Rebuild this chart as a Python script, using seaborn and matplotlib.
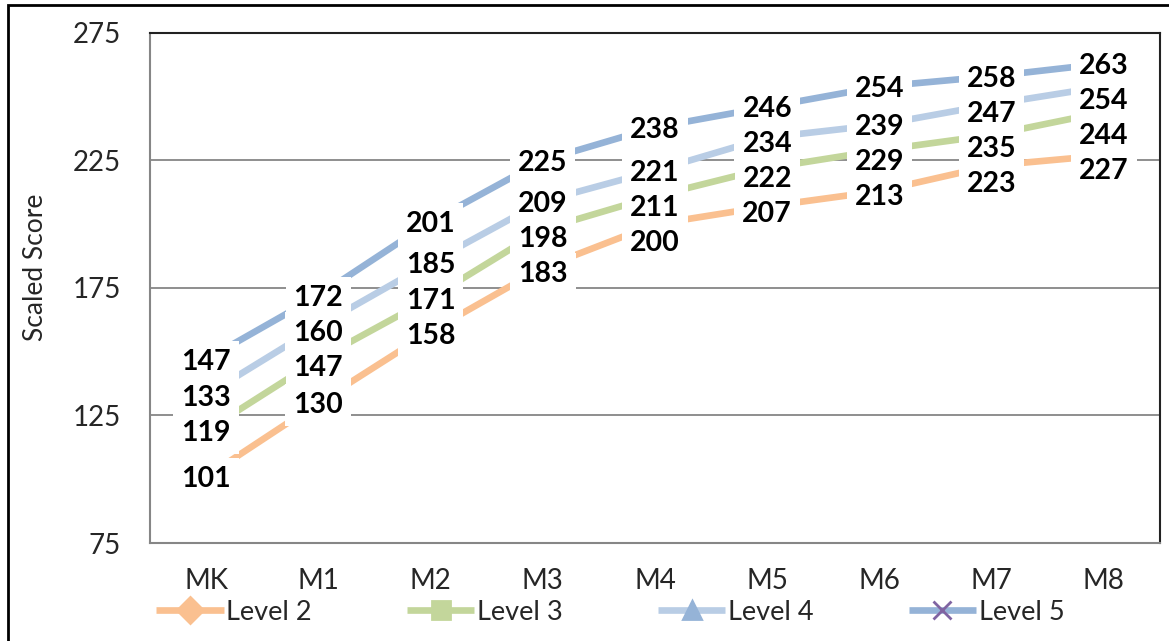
import pandas as pd
import numpy as np
import matplotlib.pyplot as plt
import seaborn as sns
from matplotlib.patches import Rectangle

# chart values
grades = ['MK', 'M1', 'M2', 'M3', 'M4', 'M5', 'M6', 'M7', 'M8']
level2 = [101, 130, 158, 183, 200, 207, 213, 223, 227]
level3 = [119, 147, 171, 198, 211, 222, 229, 235, 244]
level4 = [133, 160, 185, 209, 221, 234, 239, 247, 254]
level5 = [147, 172, 201, 225, 238, 246, 254, 258, 263]
level_names = ['Level 2', 'Level 3', 'Level 4', 'Level 5']
y_ticks = [75, 125, 175, 225, 275]

df = pd.DataFrame({
    'grade': grades * 4,
    'score': level2 + level3 + level4 + level5,
    'level': [n for n in level_names for _ in grades],
})

sns.set_theme(style='white')
plt.rcParams['font.family'] = ['Lato', 'DejaVu Sans']

line_colors = {'Level 2': '#FAC090', 'Level 3': '#C3D69B', 'Level 4': '#B9CDE5', 'Level 5': '#95B3D7'}
marker_colors = ['#FAC090', '#C3D69B', '#95B3D7', '#8064A2']
markers = {'Level 2': 'D', 'Level 3': 's', 'Level 4': '^', 'Level 5': 'X'}

fig = plt.figure(figsize=(11.69, 6.41), dpi=100)
ax = fig.add_axes([150 / 1169, 1 - 543 / 641, 1010 / 1169, 510 / 641])

sns.lineplot(data=df, x='grade', y='score', hue='level', style='level',
             palette=line_colors, markers=markers, dashes=False, linewidth=4.8,
             markersize=13, legend=False, sort=False, ax=ax)

for line, mc in zip(ax.lines, marker_colors):
    line.set_solid_capstyle('butt')
    line.set_markerfacecolor(mc)
    line.set_markeredgecolor(mc)
    line.set_markeredgewidth(2)
ax.lines[3].set_marker('x')

ax.set_xlim(-0.5, 8.5)
ax.set_ylim(75, 275)

# data labels with white boxes; nudge down so stacked labels don't overlap
min_gap = 35  # px
series = [level5, level4, level3, level2]
for i in range(len(grades)):
    prev = None
    for vals in series:
        v = vals[i]
        py = ax.transData.transform((i, v))[1]
        want = py - 2.5
        if prev is not None and want > prev - min_gap:
            want = prev - min_gap
        prev = want
        ax.annotate(str(v), (i, v), xytext=(0, (want - py) * 72 / 100),
                    textcoords='offset points', ha='center', va='center',
                    fontsize=20.5, fontweight='bold', color='black', zorder=5,
                    annotation_clip=False,
                    bbox=dict(boxstyle='square,pad=0.28', fc='white', ec='none'))

ax.set_yticks(y_ticks)
ax.yaxis.grid(True, color='#868686', linewidth=1.3)
ax.set_axisbelow(True)
ax.tick_params(axis='y', labelsize=20, pad=21, length=0)
ax.tick_params(axis='x', labelsize=20, pad=18, length=0)
ax.set_xlabel('')
ax.set_ylabel('Scaled Score', fontsize=19)
ax.yaxis.set_label_coords(-102 / 1010, 0.54)

ax.spines['left'].set_color('#868686')
ax.spines['bottom'].set_color('#868686')
ax.spines['top'].set_color('#222222')
ax.spines['right'].set_color('#222222')
for s in ax.spines.values():
    s.set_linewidth(1.5)
    s.set_visible(True)

fig.legend(handles=ax.lines[:4], labels=level_names, loc='center',
           bbox_to_anchor=(0.522, 1 - 612 / 641), ncol=4, frameon=False,
           fontsize=19.5, handlelength=2.5, handletextpad=0.1, columnspacing=3.5)

# outer chart frame
fig.patches.append(Rectangle((8 / 1169, -0.1), 1.2, 1.1 - 5 / 641, transform=fig.transFigure,
                             fill=False, ec='black', lw=2))

fig.savefig('out.png', dpi=100)
